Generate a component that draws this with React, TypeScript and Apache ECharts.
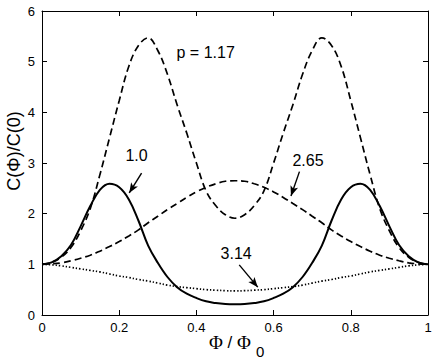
import React, { useEffect, useRef } from "react";
import * as echarts from "echarts";

const phi = [
  0, 0.025, 0.05, 0.075, 0.1, 0.125, 0.15, 0.175, 0.2, 0.225, 0.25, 0.275, 0.3, 0.325, 0.35, 0.375, 0.4,
  0.425, 0.45, 0.475, 0.5, 0.525, 0.55, 0.575, 0.6, 0.625, 0.65, 0.675, 0.7, 0.725, 0.75, 0.775, 0.8,
  0.825, 0.85, 0.875, 0.9, 0.925, 0.95, 0.975, 1,
];

// p = 1.0 (solid)
const curveP100 = [
  1.0, 1.04, 1.16, 1.38, 1.75, 2.15, 2.47, 2.59, 2.52, 2.28, 1.86, 1.37, 1.03, 0.75, 0.55, 0.42, 0.335,
  0.27, 0.235, 0.215, 0.21, 0.215, 0.235, 0.27, 0.335, 0.42, 0.55, 0.75, 1.03, 1.37, 1.86, 2.28, 2.52,
  2.59, 2.47, 2.15, 1.75, 1.38, 1.16, 1.04, 1.0,
];

// p = 1.17 (dashed)
const curveP117 = [
  1.0, 1.04, 1.14, 1.33, 1.66, 2.1, 2.77, 3.5, 4.23, 4.91, 5.32, 5.47, 5.22, 4.75, 4.15, 3.59, 3.0, 2.45,
  2.16, 1.98, 1.91, 1.98, 2.16, 2.45, 3.0, 3.59, 4.15, 4.75, 5.22, 5.47, 5.32, 4.91, 4.23, 3.5, 2.77, 2.1,
  1.66, 1.33, 1.14, 1.04, 1.0,
];

// p = 2.65 (dashed)
const curveP265 = [
  1.0, 1.01, 1.03, 1.07, 1.12, 1.18, 1.26, 1.35, 1.45, 1.56, 1.68, 1.82, 1.95, 2.08, 2.2, 2.32, 2.43, 2.52,
  2.59, 2.64, 2.65, 2.64, 2.59, 2.52, 2.43, 2.32, 2.2, 2.08, 1.95, 1.82, 1.68, 1.56, 1.45, 1.35, 1.26, 1.18,
  1.12, 1.07, 1.03, 1.01, 1.0,
];

// p = 3.14 (dotted)
const curveP314 = [
  1.0, 0.99, 0.97, 0.94, 0.91, 0.88, 0.85, 0.81, 0.77, 0.74, 0.7, 0.67, 0.63, 0.59, 0.56, 0.54, 0.52, 0.5,
  0.49, 0.48, 0.475, 0.48, 0.49, 0.5, 0.52, 0.54, 0.56, 0.59, 0.63, 0.67, 0.7, 0.74, 0.77, 0.81, 0.85, 0.88,
  0.91, 0.94, 0.97, 0.99, 1.0,
];

const annotationLabels = ["p = 1.17", "1.0", "2.65", "3.14"];
const annotationAt = [
  [0.424, 5.18],
  [0.245, 3.15],
  [0.689, 3.05],
  [0.503, 1.21],
];
const arrowFrom = [
  [0.258, 2.8],
  [0.667, 2.83],
  [0.511, 0.99],
];
const arrowTo = [
  [0.226, 2.41],
  [0.645, 2.35],
  [0.559, 0.55],
];

const FONT = "Liberation Sans, Arial, Helvetica, sans-serif";

export default function App() {
  const ref = useRef<HTMLDivElement>(null);

  useEffect(() => {
    if (!ref.current) return;
    const chart = echarts.init(ref.current, undefined, { renderer: "svg" });

    const axisLine = { show: true, onZero: false, lineStyle: { color: "#000", width: 1 } };
    const axisTick = { show: true, inside: true, length: 5, lineStyle: { color: "#000", width: 1 } };

    const pts = (arr: number[]) => phi.map((x, i) => [x, arr[i]]);

    const staticGraphic: any[] = [
      {
        id: "ylabel",
        type: "text",
        x: 14,
        y: 151,
        rotation: Math.PI / 2,
        style: {
          text: "C(Φ)/C(0)",
          fontSize: 18,
          fontFamily: FONT,
          fill: "#000",
          align: "center",
          verticalAlign: "middle",
        },
      },
      {
        id: "xlabel",
        type: "text",
        x: 209,
        y: 342,
        style: {
          text: "{a|Φ}{b| / }{a|Φ}",
          fill: "#000",
          align: "left",
          verticalAlign: "middle",
          rich: {
            a: { fontFamily: "Liberation Serif, Times New Roman, serif", fontSize: 19, fill: "#000" },
            b: { fontFamily: FONT, fontSize: 17, fill: "#000" },
          },
        },
      },
      {
        id: "xlabelsub",
        type: "text",
        x: 256,
        y: 351,
        style: {
          text: "0",
          fontFamily: FONT,
          fontSize: 15,
          fill: "#000",
          align: "left",
          verticalAlign: "middle",
        },
      },
    ];

    chart.setOption({
      animation: false,
      backgroundColor: "#fff",
      grid: { left: 42, right: 8, top: 11, bottom: 43, containLabel: false },
      xAxis: [
        {
          type: "value",
          min: 0,
          max: 1,
          interval: 0.2,
          position: "bottom",
          axisLine,
          axisTick,
          axisLabel: { color: "#000", fontSize: 13, fontFamily: FONT, margin: 6 },
          splitLine: { show: false },
        },
        {
          type: "value",
          min: 0,
          max: 1,
          interval: 0.2,
          position: "top",
          axisLine,
          axisTick,
          axisLabel: { show: false },
          splitLine: { show: false },
        },
      ],
      yAxis: [
        {
          type: "value",
          min: 0,
          max: 6,
          interval: 1,
          position: "left",
          axisLine,
          axisTick,
          axisLabel: { color: "#000", fontSize: 13, fontFamily: FONT, margin: 7 },
          splitLine: { show: false },
        },
        {
          type: "value",
          min: 0,
          max: 6,
          interval: 1,
          position: "right",
          axisLine,
          axisTick,
          axisLabel: { show: false },
          splitLine: { show: false },
        },
      ],
      series: [
        {
          type: "line",
          name: "1.0",
          data: pts(curveP100),
          smooth: 0.4,
          showSymbol: false,
          lineStyle: { color: "#000", width: 2, type: "solid" },
          z: 3,
        },
        {
          type: "line",
          name: "1.17",
          data: pts(curveP117),
          smooth: 0.4,
          showSymbol: false,
          lineStyle: { color: "#000", width: 1.7, type: [7, 4] },
          z: 2,
        },
        {
          type: "line",
          name: "2.65",
          data: pts(curveP265),
          smooth: 0.4,
          showSymbol: false,
          lineStyle: { color: "#000", width: 1.7, type: [7, 4] },
          z: 2,
        },
        {
          type: "line",
          name: "3.14",
          data: pts(curveP314),
          smooth: 0.4,
          showSymbol: false,
          lineStyle: { color: "#000", width: 1.7, type: [1.4, 2] },
          z: 2,
          markLine: {
            silent: true,
            animation: false,
            symbol: ["none", "arrow"],
            symbolSize: [6, 10],
            label: { show: false },
            lineStyle: { color: "#000", width: 1.4, type: "solid" },
            emphasis: { disabled: true },
            data: arrowFrom.map((f, i) => [
              { coord: f, symbol: "none" },
              { coord: arrowTo[i], symbol: "arrow" },
            ]),
          },
        },
      ],
      graphic: staticGraphic,
    });

    const annotationGraphic = annotationAt.map((p, i) => {
      const px = chart.convertToPixel({ gridIndex: 0 }, p) as number[];
      return {
        id: "ann" + i,
        type: "text",
        x: px[0],
        y: px[1],
        z: 10,
        style: {
          text: annotationLabels[i],
          fontSize: 16,
          fontFamily: FONT,
          fill: "#000",
          align: "center",
          verticalAlign: "middle",
        },
      };
    });

    chart.setOption({ graphic: [...staticGraphic, ...annotationGraphic] });

    return () => chart.dispose();
  }, []);

  return (
    <div
      ref={ref}
      style={{ position: "fixed", left: 0, top: 0, width: 436, height: 358, background: "#fff" }}
    />
  );
}
